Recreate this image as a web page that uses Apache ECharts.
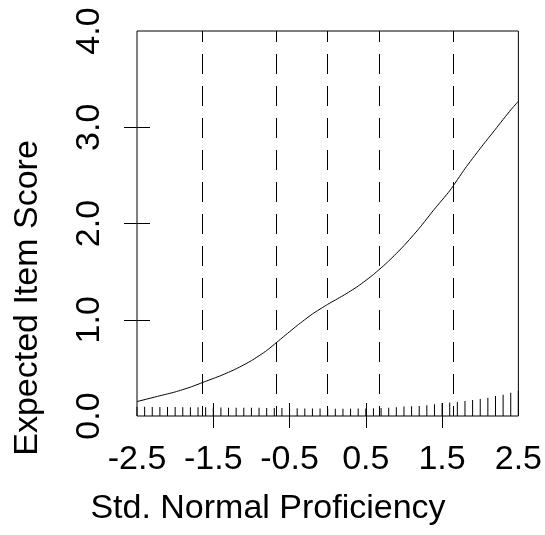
<!DOCTYPE html>
<html>
<head>
<meta charset="utf-8">
<script src="https://cdn.jsdelivr.net/npm/echarts@6/dist/echarts.min.js"></script>
<style>
  html, body { margin: 0; padding: 0; background: #fff; }
  #chart { width: 545px; height: 535px; }
</style>
</head>
<body>
<div id="chart"></div>
<script>
// expected item score curve
const curveX = [-2.5, -2.2, -2.0, -1.8, -1.6, -1.4, -1.2, -1.0, -0.8, -0.6, -0.4, -0.2, 0.0,
  0.2, 0.4, 0.6, 0.8, 1.0, 1.2, 1.4, 1.6, 1.8, 2.0, 2.2, 2.4, 2.5]
const curveY = [0.15, 0.21, 0.25, 0.30, 0.36, 0.42, 0.49, 0.575, 0.68, 0.81, 0.94, 1.06, 1.16,
  1.25, 1.35, 1.47, 1.61, 1.77, 1.95, 2.15, 2.34, 2.57, 2.78, 2.98, 3.18, 3.27]

// rug spikes along the bottom
const rugX = [-2.5, -2.4, -2.3, -2.2, -2.1, -2.0, -1.9, -1.8, -1.7, -1.6, -1.5, -1.4, -1.3, -1.2,
  -1.1, -1.0, -0.9, -0.8, -0.7, -0.6, -0.5, -0.4, -0.3, -0.2, -0.1, 0.0, 0.1, 0.2, 0.3, 0.4,
  0.5, 0.6, 0.7, 0.8, 0.9, 1.0, 1.1, 1.2, 1.3, 1.4, 1.5, 1.6, 1.7, 1.8, 1.9, 2.0, 2.1, 2.2,
  2.3, 2.4, 2.5]
const rugY = [0.095, 0.095, 0.094, 0.094, 0.093, 0.093, 0.092, 0.092, 0.091, 0.09, 0.089, 0.088,
  0.087, 0.086, 0.086, 0.085, 0.085, 0.084, 0.083, 0.082, 0.081, 0.08, 0.079, 0.078, 0.077,
  0.076, 0.075, 0.075, 0.076, 0.077, 0.079, 0.081, 0.083, 0.087, 0.092, 0.098, 0.102, 0.104,
  0.111, 0.121, 0.135, 0.14, 0.145, 0.156, 0.166, 0.177, 0.19, 0.208, 0.221, 0.242, 0.26]

// dashed reference lines (normal quantiles)
const quantiles = [-1.645, -0.674, 0, 0.674, 1.645]

const xLabels = [-2.5, -1.5, -0.5, 0.5, 1.5, 2.5]
const xTicks = [-1.5, -0.5, 0.5, 1.5]
const yTicks = [1, 2, 3]

const font = '"Liberation Sans", Arial, sans-serif'
const fontSize = 34

const myChart = echarts.init(document.getElementById('chart'))

const xBase = {
  type: 'value',
  min: -2.5,
  max: 2.5,
  position: 'bottom',
  axisLine: { show: false, onZero: false },
  splitLine: { show: false }
}
const yBase = {
  type: 'value',
  min: 0,
  max: 4,
  interval: 1,
  position: 'left',
  axisLine: { show: false, onZero: false },
  splitLine: { show: false }
}
const tickStyle = { color: '#000', width: 1 }

const option = {
  animation: false,
  grid: {
    left: 137,
    right: 24,
    top: 31,
    bottom: 119,
    show: true,
    borderColor: '#000',
    borderWidth: 1,
    backgroundColor: 'transparent'
  },
  xAxis: [
    Object.assign({}, xBase, {
      axisTick: { show: true, length: 12, customValues: xTicks, lineStyle: tickStyle },
      axisLabel: {
        customValues: xLabels,
        formatter: v => v.toFixed(1),
        fontSize: fontSize,
        fontFamily: font,
        color: '#000',
        margin: 27
      }
    }),
    // inward half of the ticks
    Object.assign({}, xBase, {
      axisTick: { show: true, inside: true, length: 13, customValues: xTicks, lineStyle: tickStyle },
      axisLabel: { show: false }
    })
  ],
  yAxis: [
    Object.assign({}, yBase, {
      axisTick: { show: true, length: 13, customValues: yTicks, lineStyle: tickStyle },
      axisLabel: {
        rotate: 90,
        formatter: v => v.toFixed(1),
        fontSize: fontSize,
        fontFamily: font,
        color: '#000',
        margin: 30
      }
    }),
    Object.assign({}, yBase, {
      axisTick: { show: true, inside: true, length: 13, customValues: yTicks, lineStyle: tickStyle },
      axisLabel: { show: false }
    })
  ],
  graphic: [
    {
      type: 'text',
      x: 268,
      y: 509,
      style: {
        text: 'Std. Normal Proficiency',
        font: fontSize + 'px ' + font,
        fill: '#000',
        align: 'center',
        verticalAlign: 'middle'
      }
    },
    {
      type: 'text',
      x: 28,
      y: 298,
      rotation: Math.PI / 2,
      style: {
        text: 'Expected Item Score',
        font: fontSize + 'px ' + font,
        fill: '#000',
        align: 'center',
        verticalAlign: 'middle'
      }
    }
  ],
  series: [
    {
      type: 'line',
      xAxisIndex: 0,
      yAxisIndex: 0,
      data: curveX.map((x, i) => [x, curveY[i]]),
      smooth: 0.2,
      showSymbol: false,
      lineStyle: { color: '#000', width: 1 },
      silent: true,
      markLine: {
        silent: true,
        symbol: ['none', 'none'],
        label: { show: false },
        lineStyle: { color: '#000', width: 1, type: [20, 12], dashOffset: 10 },
        data: quantiles.map(q => ({ xAxis: q }))
      }
    },
    {
      type: 'bar',
      xAxisIndex: 0,
      yAxisIndex: 0,
      data: rugX.map((x, i) => [x, rugY[i]]),
      barWidth: 1,
      itemStyle: { color: '#000' },
      silent: true
    }
  ]
}
myChart.setOption(option)
</script>
</body>
</html>
